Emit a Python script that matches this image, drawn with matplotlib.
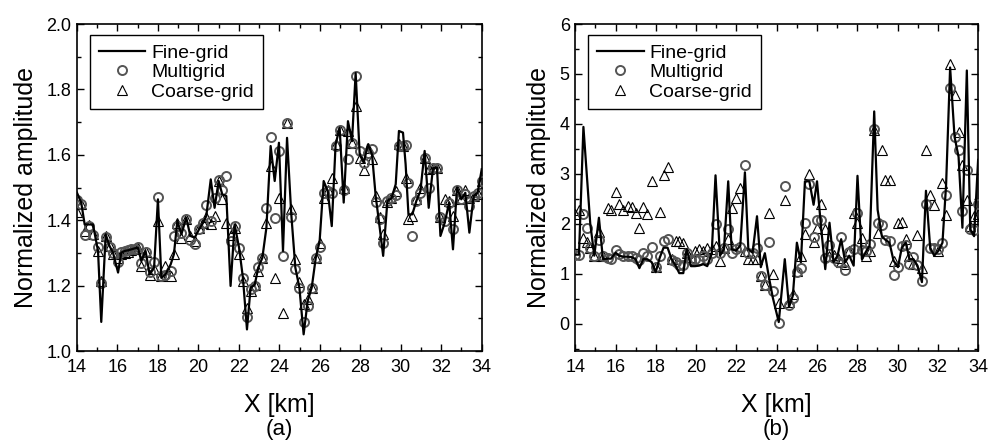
import matplotlib
matplotlib.use("Agg")
import matplotlib.pyplot as plt
from matplotlib.ticker import MultipleLocator, FormatStrFormatter

plt.rcParams['font.family'] = ['Liberation Sans', 'DejaVu Sans']

# ---- panel (a) ----
xa = [14.00, 14.21, 14.38, 14.59, 14.79, 15.04, 15.20, 15.42, 15.61, 15.78,
      16.03, 16.19, 16.36, 16.52, 16.69, 16.85, 17.01, 17.18, 17.39, 17.59,
      17.81, 18.00, 18.17, 18.37, 18.63, 18.79, 18.96, 19.16, 19.40, 19.60,
      19.82, 20.03, 20.23, 20.39, 20.61, 20.80, 21.00, 21.18, 21.38, 21.59,
      21.79, 22.01, 22.20, 22.40, 22.58, 22.78, 22.96, 23.16, 23.36, 23.57,
      23.77, 23.98, 24.18, 24.38, 24.59, 24.79, 24.99, 25.20, 25.40, 25.60,
      25.80, 25.99, 26.19, 26.39, 26.59, 26.78, 26.98, 27.18, 27.39, 27.59,
      27.77, 27.97, 28.17, 28.38, 28.58, 28.76, 28.96, 29.13, 29.34, 29.54,
      29.75, 29.91, 30.11, 30.24, 30.38, 30.57, 30.77, 30.97, 31.18, 31.38,
      31.59, 31.79, 31.96, 32.17, 32.39, 32.58, 32.78, 32.99, 33.19, 33.39,
      33.60, 33.80, 34.00]
fine_a = [1.484, 1.454, 1.387, 1.387, 1.387, 1.306, 1.089, 1.357, 1.321, 1.301,
          1.240, 1.301, 1.306, 1.308, 1.311, 1.314, 1.316, 1.275, 1.306, 1.234,
          1.255, 1.464, 1.224, 1.234, 1.265, 1.296, 1.398, 1.357, 1.408, 1.352,
          1.347, 1.372, 1.392, 1.413, 1.525, 1.438, 1.520, 1.479, 1.474, 1.199,
          1.387, 1.316, 1.224, 1.066, 1.194, 1.202, 1.255, 1.285, 1.377, 1.627,
          1.520, 1.637, 1.306, 1.652, 1.418, 1.255, 1.194, 1.051, 1.153, 1.194,
          1.285, 1.336, 1.520, 1.489, 1.382, 1.632, 1.683, 1.454, 1.703, 1.642,
          1.850, 1.601, 1.576, 1.632, 1.601, 1.474, 1.377, 1.291, 1.459, 1.467,
          1.510, 1.673, 1.668, 1.571, 1.418, 1.418, 1.459, 1.489, 1.612, 1.438,
          1.559, 1.561, 1.352, 1.392, 1.454, 1.311, 1.500, 1.464, 1.484, 1.362,
          1.474, 1.484, 1.556]
multi_a = [1.462, 1.449, 1.355, 1.382, 1.355, 1.319, 1.207, 1.350, 1.319, 1.301,
           1.272, 1.304, 1.306, 1.308, 1.311, 1.312, 1.319, 1.270, 1.304, 1.243,
           1.272, 1.472, 1.229, 1.232, 1.245, 1.352, 1.382, 1.360, 1.405, 1.341,
           1.326, 1.372, 1.392, 1.446, 1.398, 1.469, 1.522, 1.494, 1.535, 1.336,
           1.382, 1.316, 1.224, 1.105, 1.189, 1.199, 1.257, 1.285, 1.438, 1.654,
           1.406, 1.612, 1.291, 1.696, 1.410, 1.252, 1.194, 1.090, 1.138, 1.194,
           1.285, 1.319, 1.484, 1.489, 1.484, 1.627, 1.675, 1.494, 1.586, 1.637,
           1.840, 1.612, 1.576, 1.607, 1.617, 1.457, 1.403, 1.329, 1.459, 1.467,
           1.476, 1.627, 1.627, 1.630, 1.515, 1.352, 1.459, 1.484, 1.589, 1.500,
           1.559, 1.561, 1.410, 1.398, 1.454, 1.372, 1.492, 1.464, 1.479, 1.443,
           1.474, 1.484, 1.520]
coarse_a = [1.426, 1.449, 1.367, 1.385, 1.357, 1.306, 1.214, 1.352, 1.321, 1.296,
            1.285, 1.296, 1.301, 1.304, 1.308, 1.311, 1.316, 1.260, 1.304, 1.232,
            1.250, 1.398, 1.229, 1.260, 1.229, 1.298, 1.392, 1.347, 1.403, 1.352,
            1.336, 1.377, 1.392, 1.410, 1.387, 1.413, 1.520, 1.464, 1.392, 1.355,
            1.377, 1.296, 1.214, 1.133, 1.183, 1.202, 1.245, 1.285, 1.392, 1.566,
            1.224, 1.469, 1.115, 1.696, 1.433, 1.280, 1.212, 1.143, 1.158, 1.194,
            1.285, 1.331, 1.469, 1.494, 1.530, 1.632, 1.675, 1.500, 1.673, 1.637,
            1.749, 1.591, 1.553, 1.622, 1.586, 1.474, 1.410, 1.357, 1.457, 1.467,
            1.489, 1.632, 1.627, 1.530, 1.403, 1.413, 1.464, 1.500, 1.589, 1.556,
            1.559, 1.561, 1.410, 1.464, 1.459, 1.413, 1.494, 1.464, 1.494, 1.469,
            1.474, 1.479, 1.520]

# ---- panel (b) ----
xb = [14.00, 14.18, 14.40, 14.60, 14.74, 14.94, 15.17, 15.37, 15.60, 15.77,
      16.00, 16.18, 16.38, 16.60, 16.80, 16.99, 17.18, 17.37, 17.57, 17.79,
      17.99, 18.19, 18.38, 18.58, 18.78, 18.98, 19.16, 19.36, 19.53, 19.74,
      19.94, 20.14, 20.35, 20.55, 20.77, 20.96, 21.18, 21.38, 21.59, 21.76,
      21.97, 22.19, 22.42, 22.59, 22.80, 23.02, 23.21, 23.41, 23.61, 23.81,
      24.10, 24.40, 24.61, 24.80, 25.00, 25.20, 25.40, 25.62, 25.83, 26.00,
      26.21, 26.41, 26.62, 26.82, 27.02, 27.20, 27.40, 27.60, 27.82, 28.01,
      28.23, 28.43, 28.61, 28.84, 29.01, 29.22, 29.39, 29.60, 29.80, 30.02,
      30.21, 30.41, 30.59, 30.79, 30.99, 31.21, 31.41, 31.62, 31.82, 32.03,
      32.23, 32.41, 32.61, 32.83, 33.03, 33.22, 33.44, 33.61, 33.80, 34.00]
fine_b = [1.38, 1.38, 3.94, 2.80, 2.00, 1.36, 2.12, 1.29, 1.30, 1.30,
          1.42, 1.36, 1.34, 1.34, 1.33, 1.29, 1.11, 1.29, 1.29, 1.23,
          1.03, 1.32, 1.52, 1.52, 1.29, 1.16, 1.01, 1.01, 1.49, 1.15,
          1.15, 1.16, 1.19, 1.15, 1.40, 2.97, 1.36, 1.49, 2.85, 1.49,
          1.46, 1.56, 3.03, 1.49, 1.42, 2.15, 1.13, 1.41, 0.93, 0.51,
          0.03, 1.29, 0.33, 0.56, 1.62, 1.23, 2.85, 2.85, 2.38, 2.85,
          1.89, 1.09, 2.02, 1.23, 1.36, 1.69, 1.23, 1.36, 1.16, 2.96,
          1.29, 1.44, 1.56, 4.25, 2.28, 1.75, 1.68, 1.62, 1.26, 1.13,
          1.52, 1.62, 1.29, 1.29, 1.16, 0.83, 2.66, 1.52, 1.36, 1.46,
          1.62, 2.78, 5.13, 3.74, 3.34, 1.92, 5.07, 1.89, 1.75, 3.28]
multi_b = [1.38, 1.38, 2.20, 1.92, 1.52, 1.36, 1.68, 1.36, 1.32, 1.30,
           1.48, 1.39, 1.36, 1.36, 1.36, 1.32, 1.27, 1.42, 1.36, 1.54,
           1.13, 1.36, 1.66, 1.69, 1.28, 1.23, 1.17, 1.17, 1.41, 1.28,
           1.29, 1.28, 1.36, 1.29, 1.42, 1.99, 1.41, 1.51, 1.90, 1.42,
           1.49, 1.54, 3.18, 1.42, 1.42, 1.51, 0.96, 0.78, 1.63, 0.66,
           0.02, 2.75, 0.37, 0.51, 1.04, 1.11, 2.02, 2.80, 1.74, 2.07,
           2.07, 1.32, 1.57, 1.32, 1.24, 1.74, 1.08, 1.44, 1.49, 2.22,
           1.47, 1.46, 1.59, 3.89, 2.02, 1.97, 1.68, 1.66, 0.97, 1.13,
           1.56, 1.57, 1.19, 1.34, 1.17, 0.85, 2.40, 1.51, 1.51, 1.49,
           1.62, 2.58, 4.72, 3.74, 3.48, 2.26, 3.08, 1.90, 1.87, 2.40]
coarse_b = [2.20, 2.28, 1.72, 1.64, 1.52, 1.36, 1.83, 1.36, 2.32, 2.28,
            2.64, 2.40, 2.28, 2.35, 2.33, 2.22, 1.92, 2.33, 2.20, 2.85,
            1.13, 2.23, 2.97, 3.13, 1.30, 1.66, 1.66, 1.62, 1.41, 1.34,
            1.46, 1.49, 1.46, 1.52, 1.49, 1.56, 1.26, 1.51, 1.70, 2.32,
            2.52, 2.72, 1.45, 1.30, 1.30, 1.30, 0.96, 0.77, 2.22, 0.99,
            0.42, 2.47, 0.43, 0.60, 1.06, 1.36, 1.79, 3.00, 1.64, 1.92,
            2.40, 1.89, 1.36, 1.37, 1.32, 1.23, 1.19, 1.46, 2.22, 2.02,
            1.72, 1.36, 1.46, 3.87, 1.81, 3.48, 2.88, 2.87, 1.26, 2.02,
            2.04, 1.70, 1.36, 1.19, 1.77, 1.11, 3.48, 2.58, 2.38, 1.46,
            2.81, 2.17, 5.21, 4.57, 3.84, 3.17, 2.48, 1.95, 2.15, 2.19]

fig = plt.figure(figsize=(9.92, 4.46), dpi=100)
ax1 = fig.add_axes([0.0776, 0.213, 0.408, 0.733])
ax2 = fig.add_axes([0.580, 0.213, 0.406, 0.733])


def draw(ax, x, fine, multi, coarse):
    ax.plot(x, coarse, linestyle='none', marker='^', markersize=6.5,
            markerfacecolor='none', markeredgecolor='black',
            markeredgewidth=0.8, label='Coarse-grid', zorder=2)
    ax.plot(x, multi, linestyle='none', marker='o', markersize=6.5,
            markerfacecolor='none', markeredgecolor='#555555',
            markeredgewidth=1.4, label='Multigrid', zorder=3)
    ax.plot(x, fine, color='black', linewidth=1.6, label='Fine-grid', zorder=4)
    h, l = ax.get_legend_handles_labels()
    leg = ax.legend(h[::-1], l[::-1], loc='upper left', fontsize=14,
                    frameon=True, fancybox=False, edgecolor='black',
                    framealpha=1, handlelength=2.4, handletextpad=0.3,
                    borderpad=0.45, labelspacing=0.1, borderaxespad=0,
                    bbox_to_anchor=(0.032, 0.966))
    leg.get_frame().set_linewidth(1.0)
    ax.set_xlim(14, 34)
    ax.xaxis.set_major_locator(MultipleLocator(2))
    ax.xaxis.set_minor_locator(MultipleLocator(1))
    ax.tick_params(which='both', direction='in', top=True, right=True,
                   labelsize=13, width=1.0)
    ax.tick_params(axis='x', pad=6)
    ax.tick_params(axis='y', pad=4)
    ax.tick_params(which='major', length=5)
    ax.tick_params(which='minor', length=3)
    for s in ax.spines.values():
        s.set_linewidth(1.2)
    ax.set_xlabel('X [km]', fontsize=18, labelpad=12)
    ax.set_ylabel('Normalized amplitude', fontsize=18, labelpad=6)


draw(ax1, xa, fine_a, multi_a, coarse_a)
ax1.set_ylim(1.0, 2.0)
ax1.yaxis.set_major_locator(MultipleLocator(0.2))
ax1.yaxis.set_minor_locator(MultipleLocator(0.1))
ax1.yaxis.set_major_formatter(FormatStrFormatter('%.1f'))

draw(ax2, xb, fine_b, multi_b, coarse_b)
ax2.set_ylim(-0.55, 6.0)
ax2.yaxis.set_major_locator(MultipleLocator(1))
ax2.yaxis.set_minor_locator(MultipleLocator(0.5))

fig.text(0.2816, 0.036, '(a)', ha='center', va='center', fontsize=16)
fig.text(0.783, 0.036, '(b)', ha='center', va='center', fontsize=16)

fig.savefig('out.png', dpi=100)
